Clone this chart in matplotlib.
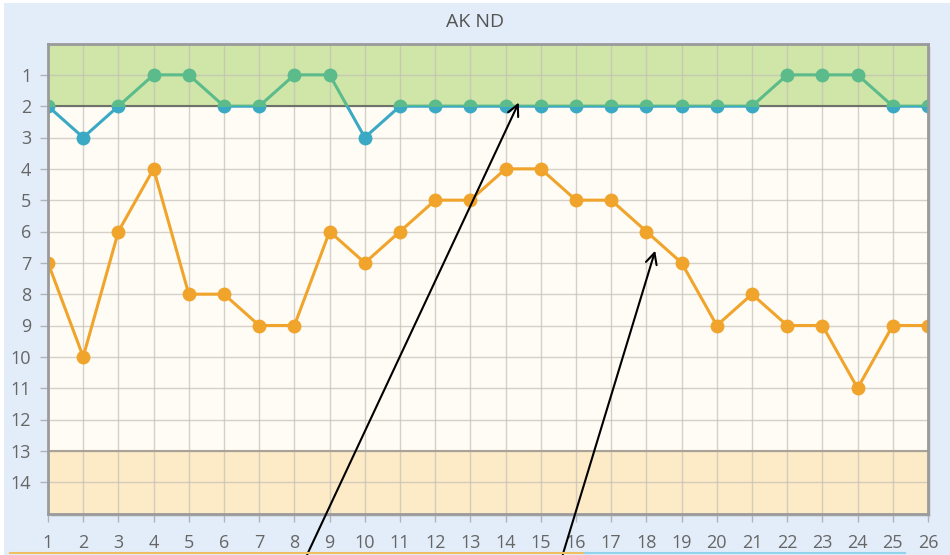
#!/usr/bin/env python3
"""Rank chart 'AK ND' with good/bad zones."""

import matplotlib
matplotlib.use("Agg")
import matplotlib.pyplot as plt
from matplotlib.patches import Rectangle
from matplotlib.lines import Line2D

rounds = list(range(1, 27))
rank_a = [2, 3, 2, 1, 1, 2, 2, 1, 1, 3, 2, 2, 2, 2, 2, 2, 2, 2, 2, 2, 2, 1, 1, 1, 2, 2]
rank_b = [7, 10, 6, 4, 8, 8, 9, 9, 6, 7, 6, 5, 5, 4, 4, 5, 5, 6, 7, 9, 8, 9, 9, 11, 9, 9]
y_ticks = list(range(1, 15))
title = "AK ND"

TOP_ZONE = 2      # ranks <= 2 -> green zone
BOTTOM_ZONE = 13  # ranks >= 13 -> orange zone
Y_MAX = 15

BG = "#e3edf9"
PLOT_BG = "#fffcf5"
GREEN_BAND = "#cfe6a8"
ORANGE_BAND = "#fdeac6"
BLUE = "#3aa9c4"
GREEN = "#5cbb8b"
ORANGE = "#f0a42c"
TXT = "#666666"

plt.rcParams["font.family"] = ["Open Sans", "DejaVu Sans"]

fig = plt.figure(figsize=(9.5, 5.55), dpi=100)
fig.patch.set_facecolor("white")
fig.patches.append(Rectangle((4 / 950, 0), 1, 1 - 3 / 555, transform=fig.transFigure,
                             facecolor=BG, edgecolor="none", zorder=-10))

W, H = 950, 555
ax = fig.add_axes([48 / W, (H - 513.5) / H, 880 / W, 470 / H])
ax.set_facecolor(PLOT_BG)

# plot shadow
fig.patches.append(Rectangle(((48 + 3) / W, (H - 513.5 - 3) / H), 880 / W, 470 / H,
                             transform=fig.transFigure, facecolor="#c9ced6",
                             edgecolor="none", alpha=0.6, zorder=-5))

ax.set_xlim(rounds[0], rounds[-1])
ax.set_ylim(Y_MAX, 0)

ax.axhspan(0, TOP_ZONE, color=GREEN_BAND, zorder=1, lw=0)
ax.axhspan(BOTTOM_ZONE, Y_MAX, color=ORANGE_BAND, zorder=1, lw=0)
ax.axhline(TOP_ZONE, color="#6e7268", lw=1.5, zorder=1.6)
ax.axhline(BOTTOM_ZONE, color="#a8a298", lw=1.5, zorder=1.6)

ax.set_xticks(rounds)
ax.set_yticks(y_ticks)
ax.grid(True, color="#c4bfb7", lw=1, alpha=0.7)

for s in ax.spines.values():
    s.set_color("#9a9a9a")
    s.set_linewidth(2)
    s.set_zorder(5)

ax.tick_params(direction="out", length=6, width=1, color="#b0b4b8",
               labelcolor=TXT, labelsize=13, pad=6)
ax.tick_params(axis="x", pad=9)

# series with zones: green above threshold, blue below
lkw = dict(lw=2.2, marker="o", ms=10, mew=0, zorder=3)
blue_line, = ax.plot(rounds, rank_a, color=BLUE, **lkw)
green_line, = ax.plot(rounds, rank_a, color=GREEN, **lkw)
green_line.set_clip_path(Rectangle((rounds[0], 0), rounds[-1] - rounds[0], TOP_ZONE,
                                   transform=ax.transData))
blue_line.set_clip_path(Rectangle((rounds[0], TOP_ZONE), rounds[-1] - rounds[0],
                                  Y_MAX - TOP_ZONE, transform=ax.transData))

ax.plot(rounds, rank_b, color=ORANGE, **lkw)

fig.text(0.5, 1 - 22 / H, title, ha="center", va="center", color="#555555", fontsize=14)

# bottom strip (partially visible legend bar)
fig.lines.append(Line2D([10 / W, 585 / W], [2 / H, 2 / H], transform=fig.transFigure,
                        color="#f0c060", lw=1.5))
fig.lines.append(Line2D([585 / W, 905 / W], [2 / H, 2 / H], transform=fig.transFigure,
                        color="#8fd3ec", lw=1.5))

# annotation arrows
arrow = dict(arrowstyle="->", color="black", lw=1.5, mutation_scale=20)
ax.annotate("", xy=(520, H - 100), xycoords="figure pixels",
            xytext=(306, -2), textcoords="figure pixels", arrowprops=arrow,
            annotation_clip=False, zorder=10)
ax.annotate("", xy=(656, H - 248), xycoords="figure pixels",
            xytext=(562, -2), textcoords="figure pixels", arrowprops=arrow,
            annotation_clip=False, zorder=10)

fig.savefig("out.png", dpi=100, facecolor=fig.get_facecolor())
